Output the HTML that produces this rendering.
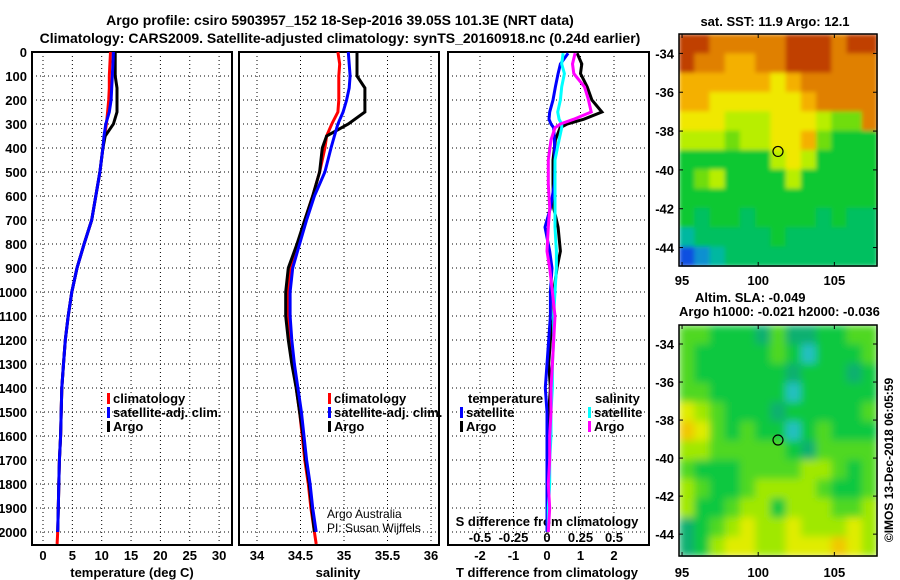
<!DOCTYPE html>
<html><head><meta charset="utf-8"><style>
html,body{margin:0;padding:0;background:#fff;}
svg{display:block;font-family:"Liberation Sans",sans-serif;}
.b{font-weight:bold;font-size:13px;fill:#000;}
.t{font-weight:bold;font-size:14px;fill:#000;}
</style></head><body>
<svg id="c" width="900" height="580" viewBox="0 0 900 580" xmlns="http://www.w3.org/2000/svg">
<defs>
<filter id="blurSla" x="0" y="0" width="1" height="1"><feGaussianBlur stdDeviation="4" edgeMode="duplicate"/></filter>
<filter id="blurSst" x="0" y="0" width="1" height="1"><feGaussianBlur stdDeviation="2" edgeMode="duplicate"/></filter>
</defs>
<rect width="900" height="580" fill="#fff"/>
<text class="t" x="340" y="25" text-anchor="middle">Argo profile: csiro 5903957_152 18-Sep-2016 39.05S 101.3E (NRT data)</text>
<text class="t" x="340" y="43" text-anchor="middle">Climatology: CARS2009. Satellite-adjusted climatology: synTS_20160918.nc (0.24d earlier)</text>
<g id="g"></g>
</svg>
<script>
// ---- data ----
const depths = [0,50,100,150,200,250,300,350,400,500,600,700,800,900,1000,1100,1200,1300,1400,1500,1600,1700,1800,1900,2000,2050];
const tempClim = [11.5,11.4,11.3,11.3,11.2,11.0,10.8,10.5,10.2,9.7,9.0,8.3,7.0,5.8,4.9,4.3,3.8,3.5,3.2,3.1,3.0,2.8,2.7,2.6,2.5,2.4];
const tempSat = [12.0,11.9,11.8,11.7,11.6,11.3,10.7,10.4,10.2,9.7,9.0,8.3,7.0,5.8,4.9,4.3,3.8,3.5,3.2,3.1,3.0,2.8,2.7,2.6,2.5];
const tempArgo = [12.3,12.3,12.3,12.6,12.6,12.6,12.0,10.6,10.2,9.7,9.0,8.3,7.0,5.8,4.9,4.3,3.8,3.5,3.2,3.1,3.0,2.8,2.7,2.6,2.5];
const salClim = [34.93,34.95,34.94,34.94,34.94,34.93,34.86,34.80,34.78,34.72,34.64,34.55,34.47,34.39,34.36,34.36,34.38,34.41,34.45,34.49,34.52,34.55,34.59,34.62,34.66,34.68];
const salSat = [35.05,35.06,35.07,35.06,35.03,34.99,34.93,34.89,34.85,34.78,34.66,34.57,34.49,34.41,34.38,34.38,34.40,34.43,34.47,34.51,34.54,34.57,34.61,34.64,34.68];
const salArgo = [35.15,35.15,35.15,35.24,35.24,35.24,35.05,34.80,34.75,34.72,34.64,34.55,34.46,34.36,34.33,34.33,34.36,34.40,34.45,34.49,34.53,34.56,34.60,34.63,34.66];
const diffDepths = [5,50,90,145,200,250,280,300,316,366,450,550,650,730,830,900,1000,1100,1200,1300,1400,1500,1600,1700,1800,1900,2000];
const tDiffSat = [0.63,0.4,0.33,0.25,0.18,0.08,0.06,0.12,0.2,0.22,0.24,0.22,0.1,-0.06,0.08,0.15,0.1,0.1,0.05,0.0,-0.05,0.0,0.0,0.0,0.0,0.0,0.0];
const tDiffArgo = [0.9,1.04,1.0,1.2,1.34,1.64,1.1,0.6,0.39,0.25,0.18,0.18,0.2,0.33,0.4,0.3,0.2,0.2,0.1,0.05,0.1,0.05,0.05,0.0,0.0,0.0,0.0];
const sDiffSat = [0.12,0.11,0.13,0.11,0.1,0.08,0.09,0.11,0.11,0.09,0.06,0.06,0.06,0.06,0.07,0.07,0.06,0.05,0.05,0.04,0.04,0.03,0.03,0.02,0.02,0.01,0.01];
const sDiffArgo = [0.21,0.19,0.2,0.28,0.31,0.33,0.2,0.1,0.06,0.03,0.01,0.01,0.02,0.01,0.0,0.02,0.04,0.06,0.05,0.04,0.03,0.03,0.02,0.02,0.01,0.02,0.01];
const depthTicks = [0,100,200,300,400,500,600,700,800,900,1000,1100,1200,1300,1400,1500,1600,1700,1800,1900,2000];
const tempTicks = [0,5,10,15,20,25,30];
const salTicks = [34,34.5,35,35.5,36];
const tDiffTicks = [-2,-1,0,1,2];
const sDiffTicks = [-0.5,-0.25,0,0.25,0.5];
const lonTicks = [95,100,105];
const latTicks = [-34,-36,-38,-40,-42,-44];
const sstGrid = [
[10,10,9,9,9,9,9,10,10,10,9,10,10],
[10,9,9,8,8,9,9,10,10,10,9,9,9],
[8,8,8,8,8,8,7,8,9,9,9,9,9],
[8,8,7,7,7,7,7,7,8,9,9,9,9],
[7,7,7,6,6,6,7,7,7,6,5,5,9],
[6,6,6,5,6,6,7,7,8,5,4,4,4],
[4,4,4,4,4,4,6,7,6,4,4,4,4],
[4,5,6,4,4,4,4,6,4,4,4,4,4],
[4,4,4,4,4,4,4,4,4,4,4,4,4],
[4,3,4,4,3,4,4,4,4,3,4,3,3],
[2,3,3,3,3,3,4,3,3,3,3,3,3],
[0,1,2,3,3,3,3,3,3,3,3,3,3]];
const slaGrid = [
[3,3,2,2,2,1,3,1,1,2,2,3,3],
[3,2,2,2,2,2,3,2,0,2,2,2,3],
[3,2,2,2,2,2,2,1,2,2,2,1,2],
[3,3,2,2,2,2,2,0,2,2,2,2,2],
[5,4,3,2,2,2,1,2,2,2,2,2,3],
[6,5,3,2,3,2,2,0,2,3,2,2,2],
[4,4,3,3,3,3,3,2,1,3,3,3,3],
[3,2,2,2,3,3,3,3,4,4,3,2,3],
[4,3,2,2,3,4,4,4,4,3,2,2,3],
[4,2,2,3,4,4,2,4,4,4,3,3,4],
[1,2,3,4,5,4,4,5,4,4,4,5,4],
[1,2,4,5,5,4,4,5,5,5,6,5,4]];
const sstColors = ["#1050e0","#0a90d0","#00b8a0","#00c060","#10c830","#70dd10","#b8ee00","#f0e800","#f4b000","#e08000","#c04000"];
const slaColors = ["#20c0c0","#10b070","#10c840","#50d820","#a0e800","#e0ec00","#f0c800"];

// ---- helpers ----
const NS="http://www.w3.org/2000/svg";
const G=document.getElementById('g');
function mk(tag,attrs,parent){const e=document.createElementNS(NS,tag);for(const k in attrs)e.setAttribute(k,attrs[k]);(parent||G).appendChild(e);return e;}
const Y0=52, PXM=0.24;
const yD=d=>Y0+d*PXM;
const xT=v=>43+v*5.87;
const xS=v=>257+(v-34)*87;
const xTd=v=>547+v*33.5;
const xSd=v=>547+v*134;

function panel(x0,x1,xs,gridX,name){
  const g=mk('g',{});
  
  
  depthTicks.forEach(d=>{ if(d>0){const l=mk('line',{x1:x0,x2:x1,y1:yD(d),y2:yD(d),stroke:'#000','stroke-width':1,'stroke-dasharray':'1,3'},g);
    
    }});
  gridX.forEach(v=>{const l=mk('line',{x1:xs(v),x2:xs(v),y1:Y0,y2:545,stroke:'#000','stroke-width':1,'stroke-dasharray':'1,3'},g);
    
    });
  const r=mk('rect',{x:x0,y:Y0,width:x1-x0,height:545-Y0,fill:'none',stroke:'#000','stroke-width':2},g);
  
  
  return g;
}
function line(xs,ys,vals,col,name,xf){
  const pts=[];
  for(let i=0;i<vals.length;i++)pts.push(xf(vals[i]).toFixed(1)+','+yD(ys[i]).toFixed(1));
  const p=mk('polyline',{points:pts.join(' '),fill:'none',stroke:col,'stroke-width':3,'stroke-linejoin':'miter'});
  
  
}
function txt(x,y,s,cls,anchor,name,extra){
  const t=mk('text',Object.assign({x:x,y:y,class:cls||'b','text-anchor':anchor||'start'},extra||{}));
  t.textContent=s;
  
  
  return t;
}

// panels
panel(32,232,xT,tempTicks,'temperature-panel');
panel(239,439,xS,salTicks,'salinity-panel');
panel(448,649,xTd,tDiffTicks,'difference-panel');

depthTicks.forEach(d=>txt(27,yD(d)+5,String(d),'b','end','depth-tick-label'));
tempTicks.forEach(v=>txt(xT(v),560,String(v),'b','middle','temp-tick-label'));
salTicks.forEach(v=>txt(xS(v),560,String(v),'b','middle','salinity-tick-label'));
tDiffTicks.forEach(v=>txt(xTd(v),560,String(v),'b','middle','tdiff-tick-label'));
sDiffTicks.forEach(v=>txt(xSd(v),542,String(v),'b','middle','sdiff-tick-label'));
txt(132,577,'temperature (deg C)','b','middle','x-axis-title-temperature');
txt(338,577,'salinity','b','middle','x-axis-title-salinity');
txt(547,577,'T difference from climatology','b','middle','x-axis-title-tdiff');
txt(547,526,'S difference from climatology','b','middle','x-axis-title-sdiff');

// series
line(null,depths,tempClim,'#ff0000','temp-climatology-line',xT);
line(null,depths.slice(0,tempArgo.length),tempArgo,'#000','temp-argo-line',xT);
line(null,depths.slice(0,tempSat.length),tempSat,'#0000ff','temp-satellite-line',xT);
line(null,depths,salClim,'#ff0000','sal-climatology-line',xS);
line(null,depths.slice(0,salArgo.length),salArgo,'#000','sal-argo-line',xS);
line(null,depths.slice(0,salSat.length),salSat,'#0000ff','sal-satellite-line',xS);
line(null,diffDepths,tDiffArgo,'#000','tdiff-argo-line',xTd);
line(null,diffDepths,tDiffSat,'#0000ff','tdiff-satellite-line',xTd);
line(null,diffDepths,sDiffSat,'#00ffff','sdiff-satellite-line',xSd);
line(null,diffDepths,sDiffArgo,'#ff00ff','sdiff-argo-line',xSd);

// legends
function leg(x,y,col,label,name){
  const r=mk('rect',{x:x,y:y-10,width:3,height:11,fill:col});
  
  
  txt(x+6,y,label,'b','start',name);
}
leg(107,403,'#ff0000','climatology','legend-temp-climatology');
leg(107,417,'#0000ff','satellite-adj. clim.','legend-temp-satellite');
leg(107,431,'#000','Argo','legend-temp-argo');
leg(328,403,'#ff0000','climatology','legend-sal-climatology');
leg(328,417,'#0000ff','satellite-adj. clim.','legend-sal-satellite');
leg(328,431,'#000','Argo','legend-sal-argo');
txt(468,403,'temperature','b','start','legend-temperature-heading');
leg(460,417,'#0000ff','satellite','legend-tdiff-satellite');
leg(460,431,'#000','Argo','legend-tdiff-argo');
txt(595,403,'salinity','b','start','legend-salinity-heading');
leg(588,417,'#00ffff','satellite','legend-sdiff-satellite');
leg(588,431,'#ff00ff','Argo','legend-sdiff-argo');
txt(327,518,'Argo Australia','','start','credit-argo-australia',{style:'font-size:12px;font-weight:normal'});
txt(327,532,'PI: Susan Wijffels','','start','credit-pi',{style:'font-size:12px;font-weight:normal'});

// maps
function map(grid,colors,yTop,yBot,latTop,latBot,name,filt){
  const x0=679,x1=877,lonL=94.8,lonR=107.8;
  const xL=v=>x0+(v-lonL)*(x1-x0)/(lonR-lonL);
  const yL=v=>yTop+(latTop-v)*(yBot-yTop)/(latTop-latBot);
  const g=mk('g',{});
  
  
  const cells=mk('g',{filter:'url(#'+filt+')'},g);
  
  
  const cw=(x1-x0)/grid[0].length, ch=(yBot-yTop)/grid.length;
  grid.forEach((row,i)=>row.forEach((v,j)=>{
    const r=mk('rect',{x:(x0+j*cw).toFixed(2),y:(yTop+i*ch).toFixed(2),width:(cw+0.6).toFixed(2),height:(ch+0.6).toFixed(2),fill:colors[v]},cells);
    
    
  }));
  const f=mk('rect',{x:x0,y:yTop,width:x1-x0,height:yBot-yTop,fill:'none',stroke:'#000','stroke-width':1.5},g);
  
  
  latTicks.forEach(v=>{const y=yL(v); if(y>yTop&&y<yBot){
    txt(674,y+5,String(v),'b','end','lat-tick-label');
    mk('line',{x1:x0,x2:x0+4,y1:y,y2:y,stroke:'#000'},g); mk('line',{x1:x1-4,x2:x1,y1:y,y2:y,stroke:'#000'},g);}});
  lonTicks.forEach(v=>{const x=xL(v); mk('line',{x1:x,x2:x,y1:yTop,y2:yTop+4,stroke:'#000'},g); mk('line',{x1:x,x2:x,y1:yBot-4,y2:yBot,stroke:'#000'},g);});
  const c=mk('circle',{cx:xL(101.3),cy:yL(-39.05),r:5,fill:'none',stroke:'#000','stroke-width':1.2},g);
  
  
  return xL;
}
const xL1=map(sstGrid,sstColors,34,266,-33.0,-44.95,'sst-map','blurSst');
lonTicks.forEach(v=>txt(xL1(v),285,String(v),'b','middle','lon-tick-label'));
const xL2=map(slaGrid,slaColors,325,556,-33.0,-45.15,'sla-map','blurSla');
lonTicks.forEach(v=>txt(xL2(v),577,String(v),'b','middle','lon-tick-label'));
txt(775,26,'sat. SST: 11.9 Argo: 12.1','b','middle','sst-map-title');
txt(695,302,'Altim. SLA: -0.049','b','start','sla-map-title');
txt(679,316,'Argo h1000: -0.021 h2000: -0.036','b','start','sla-map-subtitle');
txt(0,0,'©IMOS 13-Dec-2018 06:05:59','','middle','imos-timestamp',{transform:'translate(893,460) rotate(-90)',style:'font-size:12px'});
</script>
</body></html>
